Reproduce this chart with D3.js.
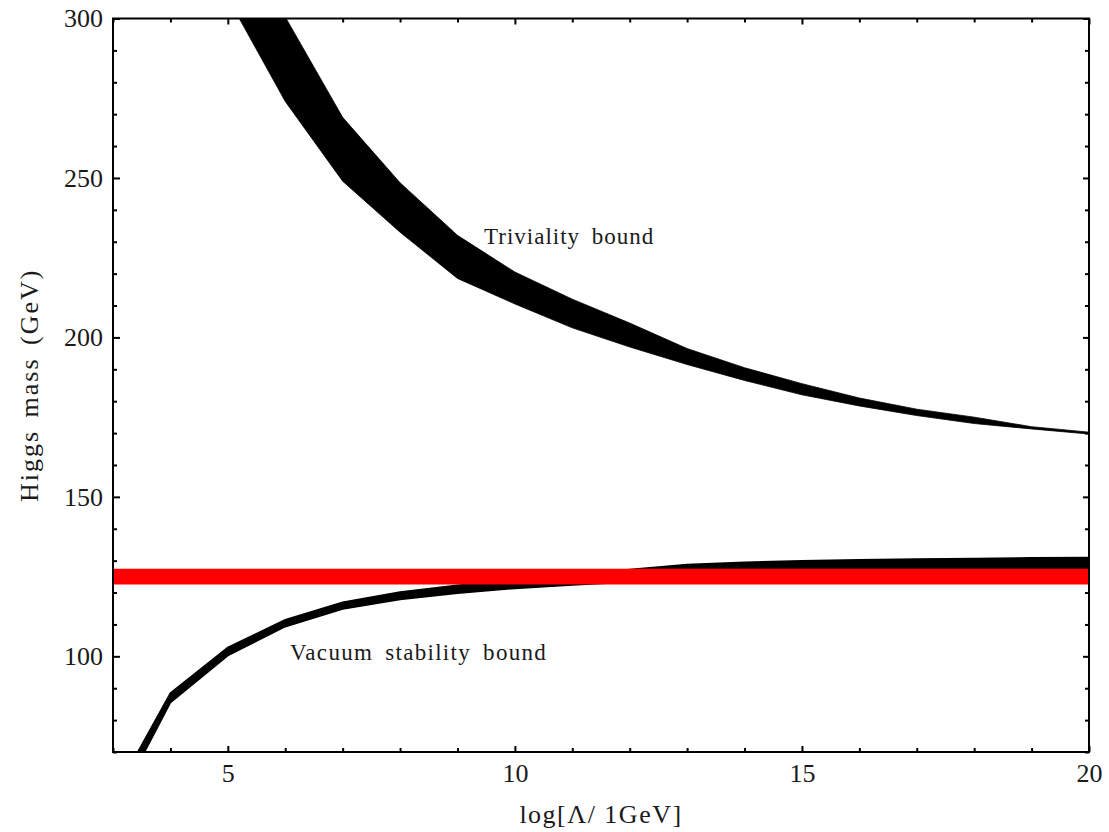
<!DOCTYPE html>
<html>
  <head>
    <meta charset="utf-8">
    <script src="https://d3js.org/d3.v7.min.js"></script>
    <style>
      body { margin: 0; background: #fff; }
      text { font-family: "Liberation Serif", "DejaVu Serif", serif; fill: #1a1a1a; }
    </style>
  </head>
  <body>
    <svg id="chart" width="1109" height="832"></svg>
    <script>
      // log10 of cutoff scale (GeV)
      var trivX     = [5, 6, 7, 8, 9, 10, 11, 12, 13, 14, 15, 16, 17, 18, 19, 20];
      var trivUpper = [340, 300.5, 269, 248.5, 232, 220.5, 212, 204.5, 196.5, 190.5, 185.5, 181, 177.5, 175, 172, 170.3];
      var trivLower = [306.5, 274, 249, 233, 218.5, 210.5, 203, 197, 191.5, 186.5, 182, 178.5, 175.5, 173, 171.3, 169.7];

      var vacX     = [3, 4, 5, 6, 7, 8, 9, 10, 11, 12, 13, 14, 15, 16, 17, 18, 19, 20];
      var vacUpper = [56, 88.5, 102.8, 111.5, 117, 120.2, 122.3, 124, 125.6, 127.2, 128.8, 129.5, 130, 130.3, 130.5, 130.7, 130.9, 131];
      var vacLower = [51, 85.5, 100.2, 109.3, 114.8, 117.8, 119.8, 121.3, 122.4, 123.3, 124, 124.5, 125, 125.2, 125.4, 125.6, 125.7, 125.8];

      // measured Higgs mass band
      var higgsX = [3, 20];
      var higgsLow = 122.5, higgsHigh = 127.5;

      var xMajor = [5, 10, 15, 20];
      var yMajor = [100, 150, 200, 250, 300];

      var svg = d3.select("#chart");
      var pL = 113, pR = 1089, pT = 18.5, pB = 752;

      var x = d3.scaleLinear().domain([3, 20]).range([pL, pR]);
      var y = d3.scaleLinear().domain([70, 300]).range([pB, pT]);

      svg.append("clipPath").attr("id", "plotclip")
        .append("rect")
          .attr("x", pL).attr("y", pT)
          .attr("width", pR - pL).attr("height", pB - pT);

      var plot = svg.append("g").attr("clip-path", "url(#plotclip)");

      var band = d3.area()
        .x(function(d) { return x(d[0]); })
        .y0(function(d) { return y(d[1]); })
        .y1(function(d) { return y(d[2]); });

      // triviality band
      plot.append("path")
        .datum(trivX.map(function(v, i) { return [v, trivLower[i], trivUpper[i]]; }))
        .attr("d", band)
        .attr("fill", "#000")
        .attr("stroke", "#000")
        .attr("stroke-width", 0.8);

      // vacuum stability band
      plot.append("path")
        .datum(vacX.map(function(v, i) { return [v, vacLower[i], vacUpper[i]]; }))
        .attr("d", band)
        .attr("fill", "#000")
        .attr("stroke", "#000")
        .attr("stroke-width", 1.5);

      // red Higgs band on top
      plot.append("path")
        .datum(higgsX.map(function(v) { return [v, higgsLow, higgsHigh]; }))
        .attr("d", band)
        .attr("fill", "#ff0000");

      // ticks, pointing inward on all four sides
      var xMinor = d3.range(3, 21).filter(function(v) { return xMajor.indexOf(v) < 0; });
      var yMinor = d3.range(70, 301, 10).filter(function(v) { return yMajor.indexOf(v) < 0; });

      function tickStyle(g) {
        g.select(".domain").remove();
        g.selectAll(".tick line").attr("stroke", "#000").attr("stroke-width", 2);
        g.selectAll(".tick text").style("font-size", "26px").attr("fill", "#1a1a1a");
      }

      svg.append("g").attr("transform", "translate(0," + pB + ")")
        .call(d3.axisBottom(x).tickValues(xMajor).tickSize(-6).tickPadding(12).tickFormat(d3.format("d")))
        .call(tickStyle);
      svg.append("g").attr("transform", "translate(0," + pB + ")")
        .call(d3.axisBottom(x).tickValues(xMinor).tickSize(-4).tickFormat(""))
        .call(tickStyle);
      svg.append("g").attr("transform", "translate(0," + pT + ")")
        .call(d3.axisTop(x).tickValues(xMajor).tickSize(-6).tickFormat(""))
        .call(tickStyle);
      svg.append("g").attr("transform", "translate(0," + pT + ")")
        .call(d3.axisTop(x).tickValues(xMinor).tickSize(-4).tickFormat(""))
        .call(tickStyle);

      svg.append("g").attr("transform", "translate(" + pL + ",0)")
        .call(d3.axisLeft(y).tickValues(yMajor).tickSize(-7).tickPadding(10).tickFormat(d3.format("d")))
        .call(tickStyle);
      svg.append("g").attr("transform", "translate(" + pL + ",0)")
        .call(d3.axisLeft(y).tickValues(yMinor).tickSize(-4).tickFormat(""))
        .call(tickStyle);
      svg.append("g").attr("transform", "translate(" + pR + ",0)")
        .call(d3.axisRight(y).tickValues(yMajor).tickSize(-6).tickFormat(""))
        .call(tickStyle);
      svg.append("g").attr("transform", "translate(" + pR + ",0)")
        .call(d3.axisRight(y).tickValues(yMinor).tickSize(-4).tickFormat(""))
        .call(tickStyle);

      // frame
      svg.append("rect")
        .attr("x", pL).attr("y", pT)
        .attr("width", pR - pL).attr("height", pB - pT)
        .attr("fill", "none")
        .attr("stroke", "#000")
        .attr("stroke-width", 2);

      // annotations
      svg.append("text")
        .attr("x", 484).attr("y", 244)
        .style("font-size", "23px")
        .style("letter-spacing", "1px")
        .style("word-spacing", "5px")
        .text("Triviality bound");

      svg.append("text")
        .attr("x", 290).attr("y", 660)
        .style("font-size", "23px")
        .style("letter-spacing", "1.3px")
        .style("word-spacing", "5px")
        .text("Vacuum stability bound");

      // axis titles
      svg.append("text")
        .attr("x", (pL + pR) / 2).attr("y", 823)
        .attr("text-anchor", "middle")
        .style("font-size", "26px")
        .style("letter-spacing", "1.5px")
        .text("log[\u039B/ 1GeV]");

      svg.append("text")
        .attr("transform", "rotate(-90)")
        .attr("x", -(pT + pB) / 2).attr("y", 38)
        .attr("text-anchor", "middle")
        .style("font-size", "26px")
        .style("letter-spacing", "2px")
        .style("word-spacing", "4px")
        .text("Higgs mass (GeV)");
    </script>
  </body>
</html>
